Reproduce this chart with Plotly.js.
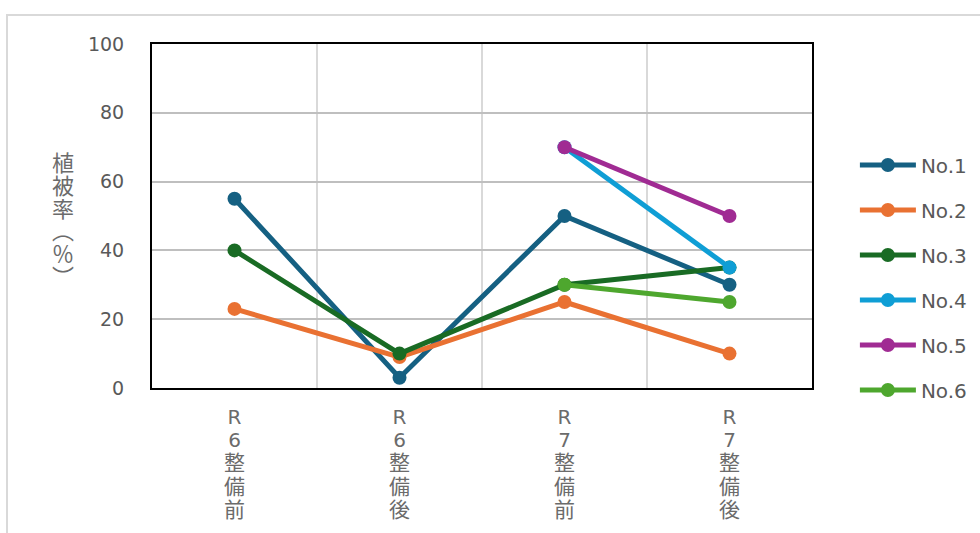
<!DOCTYPE html>
<html>
<head>
<meta charset="utf-8">
<script src="https://cdn.plot.ly/plotly-3.0.1.min.js"></script>
<style>
html,body{margin:0;padding:0;background:#fff;}
#chart{width:980px;height:533px;}
</style>
</head>
<body>
<div id="chart"></div>
<script>
const categoryLines = [["R", "6", "整", "備", "前"], ["R", "6", "整", "備", "後"], ["R", "7", "整", "備", "前"], ["R", "7", "整", "備", "後"]];
const seriesNames = ["No.1", "No.2", "No.3", "No.4", "No.5", "No.6"];
const no1 = [55, 3, 50, 30];
const no2 = [23, 9, 25, 10];
const no3 = [40, 10, 30, 35];
const no4 = [null, null, 70, 35];
const no5 = [null, null, 70, 50];
const no6 = [null, null, 30, 25];
const yTicks = [0, 20, 40, 60, 80, 100];
const yTitleChars = ["植", "被", "率", "︵", "％", "︶"];

const seriesValues = [no1, no2, no3, no4, no5, no6];
const colors = ["#156082", "#e97132", "#196b24", "#0f9ed5", "#a02b93", "#4ea72e"];
const FONT = "'DejaVu Sans', 'Noto Sans CJK JP', sans-serif";
const CJK = "'Noto Sans CJK JP', sans-serif";

const isCJK = c => /[\u3000-\u9fff\uff00-\uffef\ufe30-\ufe4f]/.test(c);
const stack = (chars, cjkPx, latinPx) => chars.map(c =>
  '<span style="font-size:' + (isCJK(c) ? cjkPx : latinPx) + 'px">' + c + '</span>').join("<br>");
const categories = categoryLines.map(lines => stack(lines, 21, 20));

const traces = seriesValues.map((vals, i) => ({
  type: "scatter",
  mode: "lines+markers",
  x: categories,
  y: vals,
  name: seriesNames[i],
  legendgroup: "g" + i,
  connectgaps: false,
  line: {color: colors[i], width: 5},
  marker: {color: colors[i], size: 14},
  cliponaxis: false
}));

const layout = {
  width: 980,
  height: 533,
  margin: {l: 152, r: 168, t: 44, b: 145, autoexpand: false},
  paper_bgcolor: "#ffffff",
  plot_bgcolor: "#ffffff",
  font: {family: FONT, color: "#595959", size: 18},
  showlegend: true,
  xaxis: {
    type: "category",
    tickson: "boundaries",
    showgrid: true,
    gridcolor: "#d9d9d9",
    gridwidth: 2,
    showline: true,
    mirror: true,
    linecolor: "#000000",
    linewidth: 2,
    ticks: "",
    ticklabelstandoff: 12,
    tickfont: {family: FONT, size: 18, color: "#6b6b6b"},
    range: [-0.5, 3.5],
    fixedrange: true
  },
  yaxis: {
    range: [0, 100],
    tickvals: yTicks,
    ticktext: yTicks.map(String),
    showgrid: true,
    gridcolor: "#bfbfbf",
    gridwidth: 2,
    zeroline: false,
    showline: true,
    mirror: true,
    linecolor: "#000000",
    linewidth: 2,
    ticks: "outside",
    ticklen: 22,
    tickcolor: "rgba(0,0,0,0)",
    tickfont: {family: FONT, size: 19, color: "#595959"},
    fixedrange: true
  },
  legend: {
    x: 1.065,
    xanchor: "left",
    y: 0.705,
    yanchor: "top",
    font: {family: FONT, size: 20, color: "#595959"},
    tracegroupgap: 16,
    itemwidth: 56,
    bgcolor: "rgba(0,0,0,0)"
  },
  annotations: [{
    text: stack(yTitleChars, 22, 22),
    xref: "paper", yref: "paper",
    x: (63 - 152) / 660,
    y: (388 - 218) / 344,
    xanchor: "center", yanchor: "middle",
    showarrow: false,
    font: {family: CJK, size: 17.5, color: "#6b6b6b"}
  }],
  shapes: [{
    type: "rect",
    xref: "paper", yref: "paper",
    x0: -0.2197, x1: 2.0,
    y0: -1.0, y1: 1.0843,
    line: {color: "#d9d9d9", width: 2},
    fillcolor: "rgba(0,0,0,0)",
    layer: "below"
  }]
};

Plotly.newPlot("chart", traces, layout, {displayModeBar: false, staticPlot: true});
</script>
</body>
</html>
